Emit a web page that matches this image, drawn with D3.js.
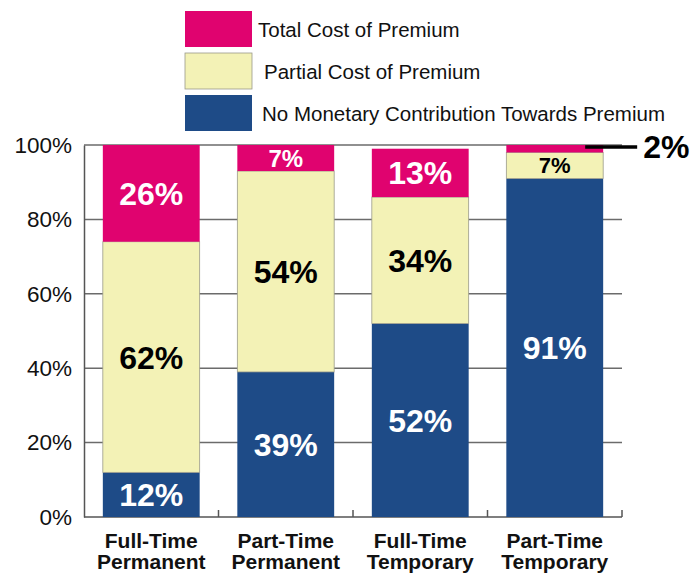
<!DOCTYPE html>
<html>
<head>
<meta charset="utf-8">
<script src="https://cdn.jsdelivr.net/npm/d3@7"></script>
<style>
  html, body { margin: 0; padding: 0; background: #fff; }
  svg text { font-family: "Liberation Sans", Arial, Helvetica, sans-serif; }
</style>
</head>
<body>
<svg id="chart" width="697" height="576"></svg>
<script>
// ---- data ----
const categories = ["Full-Time|Permanent", "Part-Time|Permanent", "Full-Time|Temporary", "Part-Time|Temporary"];
const seriesNames = ["No Monetary Contribution Towards Premium", "Partial Cost of Premium", "Total Cost of Premium"];
const noContribution = [12, 39, 52, 91];
const partialCost = [62, 54, 34, 7];
const totalCost = [26, 7, 13, 2];
const yTicks = [0, 20, 40, 60, 80, 100];
const seriesColors = ["#1e4b87", "#f3f2b6", "#e0036f"];
const labelColors = ["#ffffff", "#000000", "#ffffff"];

// ---- layout ----
const svg = d3.select("#chart");
const x0 = 84, x1 = 622, yTop = 145, yBase = 517;

const x = d3.scaleBand().domain(categories).range([x0, x1]).padding(0);
const y = d3.scaleLinear().domain([0, 100]).range([yBase, yTop]);
const barW = x.bandwidth() * 0.72;

const rows = categories.map((c, i) => ({ cat: c, v: [noContribution[i], partialCost[i], totalCost[i]] }));

// gridlines
svg.append("g").selectAll("line").data(yTicks.filter(d => d > 0)).join("line")
  .attr("x1", x0).attr("x2", x1)
  .attr("y1", d => y(d)).attr("y2", d => y(d))
  .attr("stroke", "#6b6b6b").attr("stroke-width", 1.5);

// y axis
const yAxis = d3.axisLeft(y).tickValues(yTicks).tickFormat(d => d + "%").tickSize(0).tickPadding(12);
const gy = svg.append("g").attr("transform", `translate(${x0},0)`).call(yAxis);
gy.select(".domain").attr("stroke", "#555").attr("stroke-width", 1.5);
gy.selectAll("text").attr("font-size", 22.5).attr("fill", "#111")
  .attr("font-family", "'Liberation Sans', Arial, sans-serif");

// x axis baseline with upward ticks at band boundaries
svg.append("line").attr("x1", x0).attr("x2", x1).attr("y1", yBase).attr("y2", yBase)
  .attr("stroke", "#555").attr("stroke-width", 1.5);
const bounds = categories.map(c => x(c) + x.bandwidth());
svg.append("g").selectAll("line").data(bounds).join("line")
  .attr("x1", d => d).attr("x2", d => d)
  .attr("y1", yBase).attr("y2", yBase - 7)
  .attr("stroke", "#555").attr("stroke-width", 1.5);

// stacked bars
const stack = d3.stack().keys([0, 1, 2]).value((d, k) => d.v[k]);
const stacked = stack(rows);

const gBars = svg.append("g");
stacked.forEach((layer, k) => {
  gBars.append("g").selectAll("rect").data(layer).join("rect")
    .attr("x", d => x(d.data.cat) + (x.bandwidth() - barW) / 2)
    .attr("width", barW)
    .attr("y", d => y(d[1]))
    .attr("height", d => y(d[0]) - y(d[1]))
    .attr("fill", seriesColors[k])
    .attr("stroke", k === 1 ? "#9a9a8a" : "none")
    .attr("stroke-width", 0.8);
});

// segment labels
stacked.forEach((layer, k) => {
  layer.forEach((d, i) => {
    const val = d.data.v[k];
    const h = y(d[0]) - y(d[1]);
    const cx = x(d.data.cat) + x.bandwidth() / 2;
    const cy = (y(d[0]) + y(d[1])) / 2;
    if (h < 15) {
      // external callout
      const ly = y(d[1]) + 2;
      svg.append("line")
        .attr("x1", cx + barW / 2 - 18).attr("x2", cx + barW / 2 + 34)
        .attr("y1", ly).attr("y2", ly)
        .attr("stroke", "#000").attr("stroke-width", 3.5);
      svg.append("text").attr("x", cx + barW / 2 + 40).attr("y", ly + 11)
        .attr("font-size", 32).attr("font-weight", "bold").attr("fill", "#000")
        .text(val + "%");
      return;
    }
    const fs = h < 30 ? (k === 1 ? 22 : 24) : 32;
    svg.append("text")
      .attr("x", cx).attr("y", cy + fs * 0.36)
      .attr("text-anchor", "middle")
      .attr("font-size", fs).attr("font-weight", "bold")
      .attr("fill", labelColors[k])
      .text(val + "%");
  });
});

// category labels
const gCat = svg.append("g");
categories.forEach(c => {
  const parts = c.split("|");
  const t = gCat.append("text")
    .attr("x", x(c) + x.bandwidth() / 2)
    .attr("text-anchor", "middle")
    .attr("font-size", 21).attr("font-weight", "bold").attr("fill", "#111");
  parts.forEach((p, j) => {
    t.append("tspan").attr("x", x(c) + x.bandwidth() / 2).attr("y", 548 + j * 21).text(p);
  });
});

// legend (top to bottom: Total, Partial, None)
const legendOrder = [2, 1, 0];
const legendY = [11, 53, 95];
const legendTextX = [258, 264, 262];
const gLeg = svg.append("g");
legendOrder.forEach((k, j) => {
  gLeg.append("rect").attr("x", 185).attr("y", legendY[j]).attr("width", 67).attr("height", 36)
    .attr("fill", seriesColors[k])
    .attr("stroke", k === 1 ? "#9a9a8a" : "none").attr("stroke-width", 0.8);
  gLeg.append("text").attr("x", legendTextX[j]).attr("y", legendY[j] + 26)
    .attr("font-size", 20.5).attr("fill", "#111")
    .text(seriesNames[k]);
});
</script>
</body>
</html>
